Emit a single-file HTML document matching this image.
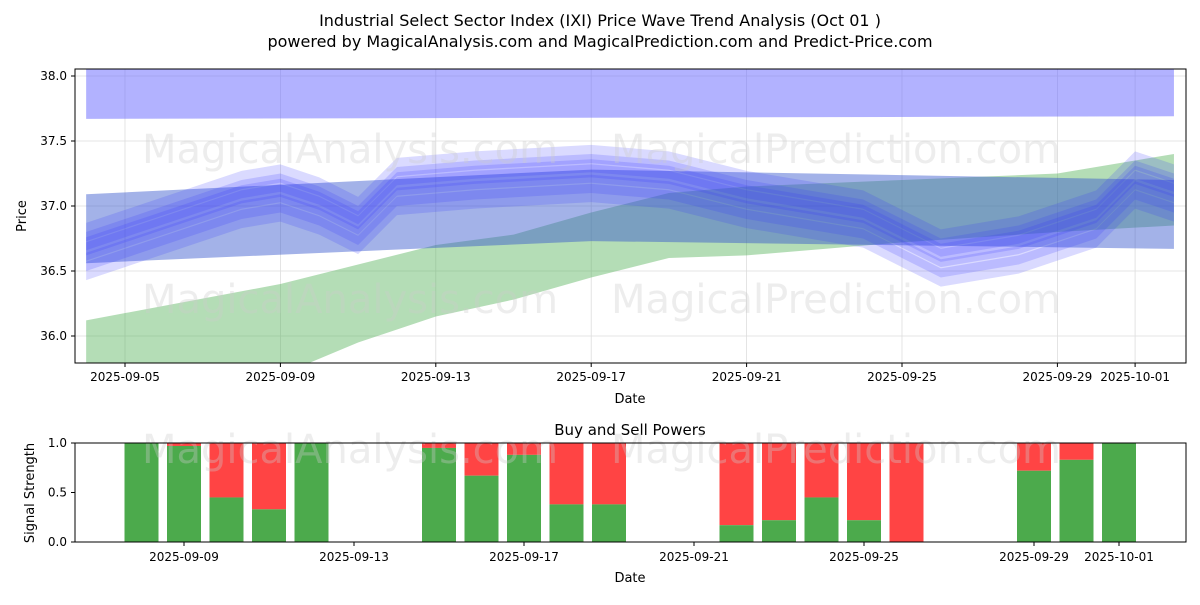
<!DOCTYPE html>
<html><head><meta charset="utf-8"><style>
body{margin:0;background:#fff;font-family:"Liberation Sans","DejaVu Sans",sans-serif}
svg text{font-family:"DejaVu Sans","Liberation Sans",sans-serif}
</style></head><body>
<svg id="c" width="1200" height="600" xmlns="http://www.w3.org/2000/svg">
<rect width="1200" height="600" fill="#fff"/>
<text x="600" y="26" font-size="16" text-anchor="middle">Industrial Select Sector Index (IXI) Price Wave Trend Analysis (Oct 01 )</text>
<text x="600" y="47" font-size="16" text-anchor="middle">powered by MagicalAnalysis.com and MagicalPrediction.com and Predict-Price.com</text>
<g id="topchart"></g><g id="botchart"></g>
</svg>
<script>
const NS="http://www.w3.org/2000/svg";
// top chart data
const yTicks=[36.0,36.5,37.0,37.5,38.0];
const xTickLabels=["2025-09-05","2025-09-09","2025-09-13","2025-09-17","2025-09-21","2025-09-25","2025-09-29","2025-10-01"];
const xTickDays=[4,8,12,16,20,24,28,30];
const greenDays=[3,8,10,12,14,16,18,20,24,28,31];
const greenUpper=[36.12,36.4,36.55,36.7,36.78,36.95,37.1,37.15,37.2,37.25,37.4];
const greenLower=[35.6,35.7,35.95,36.15,36.28,36.45,36.6,36.62,36.72,36.8,36.85];
const topBandDays=[3,31];
const topBandUpper=[38.05,38.05];
const topBandLower=[37.67,37.69];
const flatBandDays=[3,16,31];
const flatBandUpper=[37.09,37.28,37.2];
const flatBandLower=[36.56,36.73,36.67];
const waveDays=[3,5,7,8,9,10,11,13,16,18,20,22,23,25,27,29,30,31];
const waveValues=[36.65,36.85,37.05,37.1,37.0,36.85,37.15,37.2,37.25,37.2,37.05,36.95,36.9,36.6,36.7,36.9,37.2,37.1];
const waveOffsets=[0,0.08,-0.08,0.15,-0.15,0.04];
// bottom chart data
const barDays=[7,8,9,10,11,14,15,16,17,18,21,22,23,24,25,28,29,30];
const buyPower=[1.0,0.97,0.45,0.33,1.0,0.95,0.67,0.88,0.38,0.38,0.17,0.22,0.45,0.22,0.0,0.72,0.83,1.0];
const botTickLabels=["2025-09-09","2025-09-13","2025-09-17","2025-09-21","2025-09-25","2025-09-29","2025-10-01"];
const botTickDays=[8,12,16,20,24,28,30];

const X=d=>125+(d-4)*38.85, Y=v=>206-(v-37)*130;
const BX=d=>184+(d-8)*42.5, BY=v=>542-v*99;
const topG=document.getElementById('topchart'), botG=document.getElementById('botchart');
function el(p,t,a,txt){const e=document.createElementNS(NS,t);for(const k in a)e.setAttribute(k,a[k]);if(txt!==undefined)e.textContent=txt;p.appendChild(e);return e;}
const defs=el(topG,'defs',{});const cp=el(defs,'clipPath',{id:'cp'});el(cp,'rect',{x:75,y:69,width:1111,height:294});
const g=el(topG,'g',{'clip-path':'url(#cp)'});


yTicks.forEach(v=>el(g,'line',{x1:75,x2:1186,y1:Y(v),y2:Y(v),stroke:'#ddd','stroke-width':0.8}));
xTickDays.forEach(d=>el(g,'line',{x1:X(d),x2:X(d),y1:69,y2:363,stroke:'#ddd','stroke-width':0.8}));
function band(days,up,lo,fill,op,name){
 let pts=days.map((d,i)=>X(d)+','+Y(up[i]));
 for(let i=days.length-1;i>=0;i--)pts.push(X(days[i])+','+Y(lo[i]));
 const p=el(g,'polygon',{points:pts.join(' '),fill:fill,opacity:op});
 
 
}
band(greenDays,greenUpper,greenLower,'#4caf50',0.42,'green-trend-band');
band(topBandDays,topBandUpper,topBandLower,'#6666ff',0.5,'upper-blue-band');
band(flatBandDays,flatBandUpper,flatBandLower,'#3355cc',0.45,'flat-blue-band');
waveOffsets.forEach((o,k)=>{
 const up=waveValues.map(v=>v+o+0.07), lo=waveValues.map(v=>v+o-0.07);
 band(waveDays,up,lo,'#3333ff',0.18,'wave-band-'+k);
});
el(g,'text',{x:350,y:163,'font-size':40,fill:'#ccc',opacity:0.35,'text-anchor':'middle'},'MagicalAnalysis.com');
el(g,'text',{x:836,y:163,'font-size':40,fill:'#ccc',opacity:0.35,'text-anchor':'middle'},'MagicalPrediction.com');
el(g,'text',{x:350,y:313,'font-size':40,fill:'#ccc',opacity:0.35,'text-anchor':'middle'},'MagicalAnalysis.com');
el(g,'text',{x:836,y:313,'font-size':40,fill:'#ccc',opacity:0.35,'text-anchor':'middle'},'MagicalPrediction.com');
el(topG,'rect',{x:75,y:69,width:1111,height:294,fill:'none',stroke:'#000','stroke-width':1});
yTicks.forEach(v=>{el(topG,'line',{x1:71,x2:75,y1:Y(v),y2:Y(v),stroke:'#000'});
 const t=el(topG,'text',{x:67,y:Y(v)+4,'font-size':12,'text-anchor':'end'},v.toFixed(1));
 
 });
xTickDays.forEach((d,i)=>{el(topG,'line',{x1:X(d),x2:X(d),y1:363,y2:367,stroke:'#000'});
 const t=el(topG,'text',{x:X(d),y:381,'font-size':12,'text-anchor':'middle'},xTickLabels[i]);
 
 });
el(topG,'text',{x:630,y:403,'font-size':13,'text-anchor':'middle'},'Date');
el(topG,'text',{x:26,y:216,'font-size':13,'text-anchor':'middle',transform:'rotate(-90 26 216)'},'Price');
// bottom
el(botG,'text',{x:630,y:435,'font-size':15,'text-anchor':'middle'},'Buy and Sell Powers');
barDays.forEach((d,i)=>{
 const cx=BX(d);
 const r=el(botG,'rect',{x:cx-17,y:BY(1),width:34,height:BY(buyPower[i])-BY(1),fill:'#ff4444'});
 
 
 const b=el(botG,'rect',{x:cx-17,y:BY(buyPower[i]),width:34,height:BY(0)-BY(buyPower[i]),fill:'#4caa4c'});
 
 
});
el(botG,'text',{x:350,y:463,'font-size':40,fill:'#ccc',opacity:0.35,'text-anchor':'middle'},'MagicalAnalysis.com');
el(botG,'text',{x:836,y:463,'font-size':40,fill:'#ccc',opacity:0.35,'text-anchor':'middle'},'MagicalPrediction.com');
el(botG,'rect',{x:75,y:443,width:1111,height:99,fill:'none',stroke:'#000'});
[0,0.5,1].forEach(v=>{el(botG,'line',{x1:71,x2:75,y1:BY(v),y2:BY(v),stroke:'#000'});
 el(botG,'text',{x:67,y:BY(v)+4,'font-size':12,'text-anchor':'end'},v.toFixed(1));});
botTickDays.forEach((d,i)=>{el(botG,'line',{x1:BX(d),x2:BX(d),y1:542,y2:546,stroke:'#000'});
 el(botG,'text',{x:BX(d),y:561,'font-size':12,'text-anchor':'middle'},botTickLabels[i]);});
el(botG,'text',{x:630,y:582,'font-size':13,'text-anchor':'middle'},'Date');
el(botG,'text',{x:34,y:493,'font-size':13,'text-anchor':'middle',transform:'rotate(-90 34 493)'},'Signal Strength');
</script>
</body></html>
